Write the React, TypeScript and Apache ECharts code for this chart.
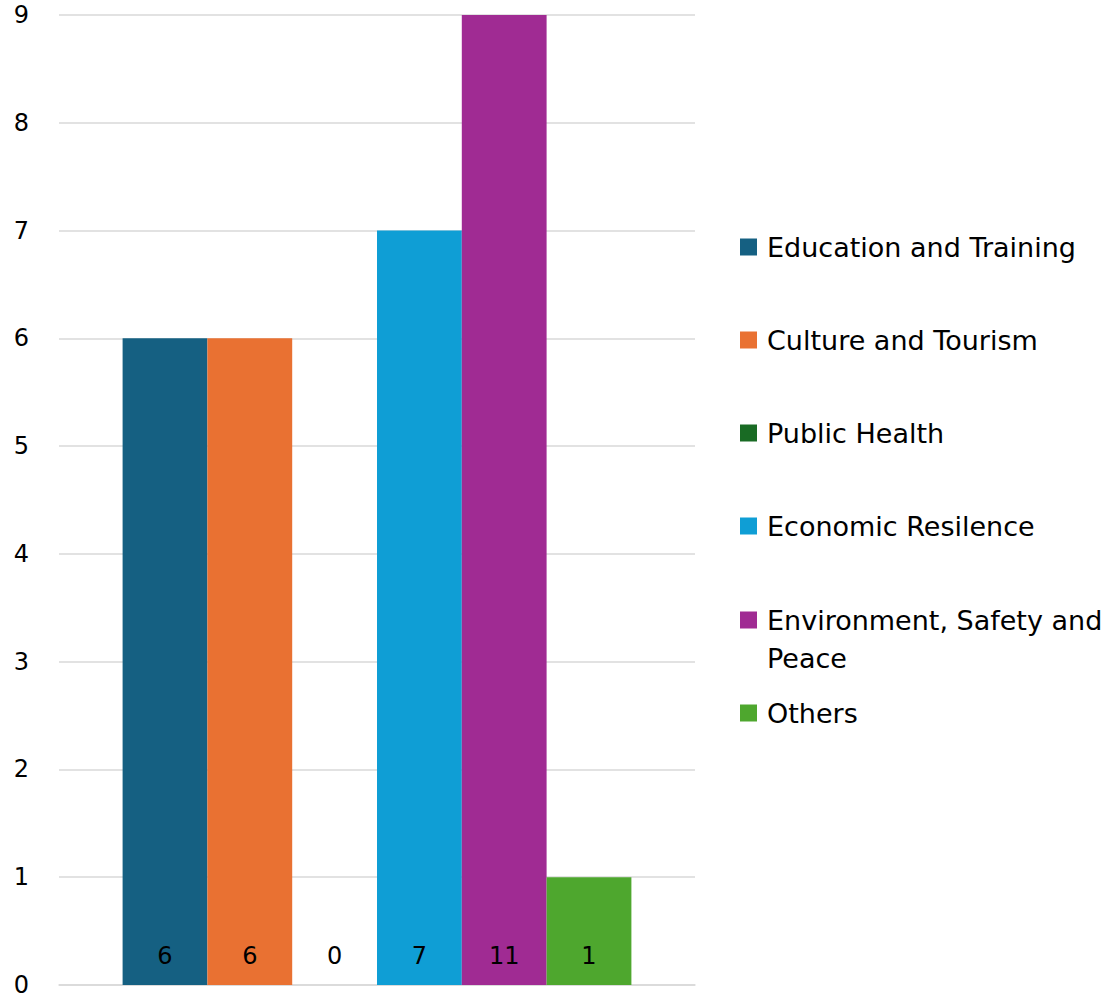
import React, { useEffect, useRef } from "react";
import * as echarts from "echarts";

const seriesNames = [
  "Education and Training",
  "Culture and Tourism",
  "Public Health",
  "Economic Resilence",
  "Environment, Safety and Peace",
  "Others",
];
const seriesValues = [6, 6, 0, 7, 11, 1];
const seriesColors = ["#156082", "#E97132", "#196B24", "#0F9ED5", "#A02B93", "#4EA72E"];
const categories = [""];
const yMin = 0;
const yMax = 9;

const FONT = "DejaVu Sans";
const legendCenters = [247, 340, 433, 526, 620, 713];

export default function App() {
  const ref = useRef<HTMLDivElement>(null);
  useEffect(() => {
    document.body.style.margin = "0";
    if (!ref.current) return;
    const chart = echarts.init(ref.current, null, { renderer: "svg" });
    const legends = seriesNames.map((name, i) => {
      const wrap = name === "Environment, Safety and Peace";
      return {
        orient: "vertical",
        left: 740,
        top: wrap ? legendCenters[i] - 57 : legendCenters[i] - 19,
        padding: 0,
        data: [name],
        icon: "rect",
        itemWidth: 17,
        itemHeight: 17,
        itemGap: 10,
        selectedMode: false,
        formatter: wrap
          ? "{t| }\n{t|Environment, Safety and}\n{t|Peace}"
          : "{t|" + name + "}",
        textStyle: {
          fontFamily: FONT,
          fontSize: 27,
          color: "#000",
          lineHeight: 38,
          rich: {
            t: {
              fontFamily: FONT,
              fontSize: 27,
              color: "#000",
              lineHeight: 38,
              padding: [0, 0, 0, 5],
            },
          },
        },
      };
    });
    chart.setOption({
      animation: false,
      textStyle: { fontFamily: FONT },
      grid: {
        left: 59,
        right: 409,
        top: 15,
        bottom: 9,
        containLabel: false,
        outerBoundsMode: "none",
      },
      legend: legends,
      xAxis: {
        type: "category",
        data: categories,
        axisLine: { show: true, lineStyle: { color: "#d9d9d9", width: 1.5 } },
        axisTick: { show: false },
        axisLabel: { show: false },
      },
      yAxis: {
        type: "value",
        min: yMin,
        max: yMax,
        interval: 1,
        axisLine: { show: false },
        axisTick: { show: false },
        splitLine: { lineStyle: { color: "#d9d9d9", width: 1.5 } },
        axisLabel: { fontFamily: FONT, fontSize: 24, color: "#000", margin: 30 },
      },
      series: seriesNames.map((name, i) => ({
        type: "bar",
        name,
        data: [seriesValues[i]],
        clip: true,
        barGap: "0%",
        barCategoryGap: "20%",
        itemStyle: { color: seriesColors[i] },
        label: {
          show: true,
          position: "insideBottom",
          distance: 17,
          formatter: "{c}",
          fontFamily: FONT,
          fontSize: 24,
          color: "#000",
        },
      })),
    });
    return () => chart.dispose();
  }, []);
  return <div ref={ref} style={{ width: 1104, height: 994 }} />;
}
